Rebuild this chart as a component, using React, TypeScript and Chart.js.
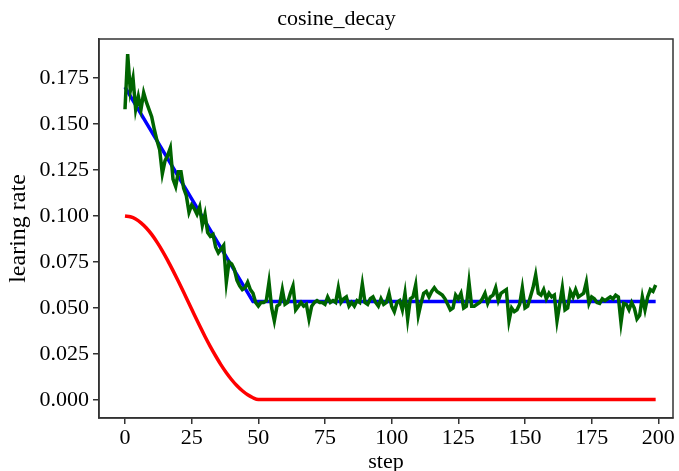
import React, { useEffect, useRef } from "react";
import { Chart, registerables } from "chart.js";

Chart.register(...registerables);

const TITLE = "cosine_decay";
const X_LABEL = "step";
const Y_LABEL = "learing rate";
const X_TICKS = [0, 25, 50, 75, 100, 125, 150, 175, 200];
const Y_TICKS = [0, 0.025, 0.05, 0.075, 0.1, 0.125, 0.15, 0.175];

// noisy learning rate (green), one value per step 0..199
const NOISY_LR = [
  0.158, 0.188, 0.168, 0.175, 0.158, 0.165, 0.158, 0.167, 0.162, 0.158,
  0.154, 0.147, 0.141, 0.136, 0.123, 0.130, 0.133, 0.137, 0.120, 0.116,
  0.124, 0.124, 0.115, 0.111, 0.102, 0.106, 0.104, 0.101, 0.105, 0.095,
  0.101, 0.091, 0.089, 0.090, 0.083, 0.080, 0.082, 0.084, 0.064, 0.075,
  0.074, 0.071, 0.065, 0.062, 0.060, 0.061, 0.064, 0.060, 0.058, 0.053,
  0.051, 0.053, 0.053, 0.054, 0.064, 0.050, 0.043, 0.051, 0.052, 0.060,
  0.052, 0.053, 0.058, 0.062, 0.049, 0.051, 0.053, 0.051, 0.052, 0.044,
  0.051, 0.053, 0.054, 0.053, 0.053, 0.052, 0.056, 0.053, 0.054, 0.053,
  0.061, 0.053, 0.055, 0.056, 0.051, 0.053, 0.051, 0.054, 0.053, 0.063,
  0.053, 0.052, 0.055, 0.056, 0.053, 0.051, 0.055, 0.052, 0.053, 0.058,
  0.051, 0.048, 0.053, 0.054, 0.049, 0.058, 0.044, 0.055, 0.056, 0.0625,
  0.046, 0.0525, 0.058, 0.059, 0.056, 0.059, 0.061, 0.059, 0.058, 0.057,
  0.055, 0.052, 0.049, 0.050, 0.057, 0.055, 0.058, 0.050, 0.051, 0.064,
  0.051, 0.051, 0.052, 0.053, 0.055, 0.058, 0.0525, 0.056, 0.057, 0.061,
  0.054, 0.058, 0.059, 0.060, 0.043, 0.050, 0.048, 0.049, 0.052, 0.061,
  0.050, 0.051, 0.056, 0.061, 0.068, 0.058, 0.057, 0.060, 0.055, 0.058,
  0.056, 0.057, 0.043, 0.052, 0.061, 0.049, 0.050, 0.059, 0.056, 0.060,
  0.056, 0.057, 0.058, 0.064, 0.0525, 0.056, 0.055, 0.053, 0.0525, 0.055,
  0.054, 0.055, 0.056, 0.055, 0.057, 0.056, 0.042, 0.0525, 0.052, 0.049,
  0.053, 0.050, 0.044, 0.046, 0.056, 0.049, 0.056, 0.060, 0.059, 0.0625,
];

// linear decay (blue): steps and values at its corners
const LINEAR_STEPS = [0, 48, 199];
const LINEAR_LR = [0.170, 0.0535, 0.0535];

// cosine decay (red)
const COSINE_STEPS = [
  0, 2, 4, 6, 8, 10, 12, 14, 16, 18, 20, 22, 24, 26, 28, 30, 32, 34, 36, 38,
  40, 42, 44, 46, 48, 50, 199,
];
const COSINE_LR = [
  0.1, 0.0996, 0.0984, 0.0963, 0.0935, 0.09, 0.0858, 0.0811, 0.0759, 0.0703,
  0.0645, 0.0585, 0.0524, 0.0463, 0.0403, 0.0345, 0.029, 0.0239, 0.0191,
  0.0148, 0.011, 0.0077, 0.005, 0.0028, 0.0012, 0.0003, 0.0003,
];

const FONT = "'Liberation Serif', 'Times New Roman', serif";
const AXIS_COLOR = "#333333";

const framePlugin = {
  id: "frame",
  afterDatasetsDraw(chart: any) {
    const { ctx, chartArea } = chart;
    ctx.save();
    ctx.strokeStyle = AXIS_COLOR;
    ctx.lineWidth = 1.5;
    ctx.strokeRect(
      chartArea.left,
      chartArea.top,
      chartArea.right - chartArea.left,
      chartArea.bottom - chartArea.top
    );
    ctx.restore();
  },
};

export default function App() {
  const ref = useRef<HTMLCanvasElement | null>(null);

  useEffect(() => {
    if (!ref.current) return;
    const noisy = NOISY_LR.map((v, i) => ({ x: i, y: v }));
    const linear = LINEAR_STEPS.map((s, i) => ({ x: s, y: LINEAR_LR[i] }));
    const cosine = COSINE_STEPS.map((s, i) => ({ x: s, y: COSINE_LR[i] }));

    const chart = new Chart(ref.current, {
      type: "line",
      data: {
        datasets: [
          {
            data: noisy,
            borderColor: "#006400",
            borderWidth: 3.5,
            pointRadius: 0,
            tension: 0,
          },
          {
            data: linear,
            borderColor: "#0000ff",
            borderWidth: 3.5,
            pointRadius: 0,
            tension: 0,
          },
          {
            data: cosine,
            borderColor: "#ff0000",
            borderWidth: 3.5,
            pointRadius: 0,
            tension: 0.3,
            cubicInterpolationMode: "monotone",
          },
        ],
      },
      options: {
        animation: false,
        responsive: false,
        devicePixelRatio: 1,
        layout: { padding: { left: 0, right: 6, top: 0, bottom: 0 } },
        plugins: {
          legend: { display: false },
          tooltip: { enabled: false },
          title: {
            display: true,
            text: TITLE,
            color: "#000",
            font: { family: FONT, size: 22, weight: "normal" },
            padding: { top: 6, bottom: 6.6 },
          },
        },
        scales: {
          x: {
            type: "linear",
            min: -9.75,
            max: 205.5,
            afterBuildTicks: (scale: any) => {
              scale.ticks = X_TICKS.map((v) => ({ value: v }));
            },
            afterFit: (scale: any) => {
              scale.height = 53;
            },
            grid: {
              display: true,
              drawOnChartArea: false,
              drawTicks: true,
              tickLength: 6,
              color: AXIS_COLOR,
              lineWidth: 1.5,
            },
            border: { display: true, color: AXIS_COLOR, width: 1.5 },
            ticks: {
              color: "#000",
              font: { family: FONT, size: 22 },
              padding: 1,
              maxRotation: 0,
              callback: (v: any) => String(v),
            },
            title: {
              display: true,
              text: X_LABEL,
              color: "#000",
              font: { family: FONT, size: 22 },
              padding: { top: 0, bottom: -4 },
            },
          },
          y: {
            type: "linear",
            min: -0.0098,
            max: 0.1962,
            afterBuildTicks: (scale: any) => {
              scale.ticks = Y_TICKS.map((v) => ({ value: v }));
            },
            afterFit: (scale: any) => {
              scale.width = 99;
            },
            grid: {
              display: true,
              drawOnChartArea: false,
              drawTicks: true,
              tickLength: 6,
              color: AXIS_COLOR,
              lineWidth: 1.5,
            },
            border: { display: true, color: AXIS_COLOR, width: 1.5 },
            ticks: {
              color: "#000",
              font: { family: FONT, size: 22 },
              padding: 4,
              callback: (v: any) => Number(v).toFixed(3),
            },
            title: {
              display: true,
              text: Y_LABEL,
              color: "#000",
              font: { family: FONT, size: 24 },
              padding: { top: 4, bottom: 0 },
            },
          },
        },
      },
      plugins: [framePlugin],
    });
    return () => chart.destroy();
  }, []);

  return (
    <div style={{ position: "absolute", left: 0, top: 0, width: 679, height: 471, background: "#fff" }}>
      <canvas ref={ref} width={679} height={471} />
    </div>
  );
}
